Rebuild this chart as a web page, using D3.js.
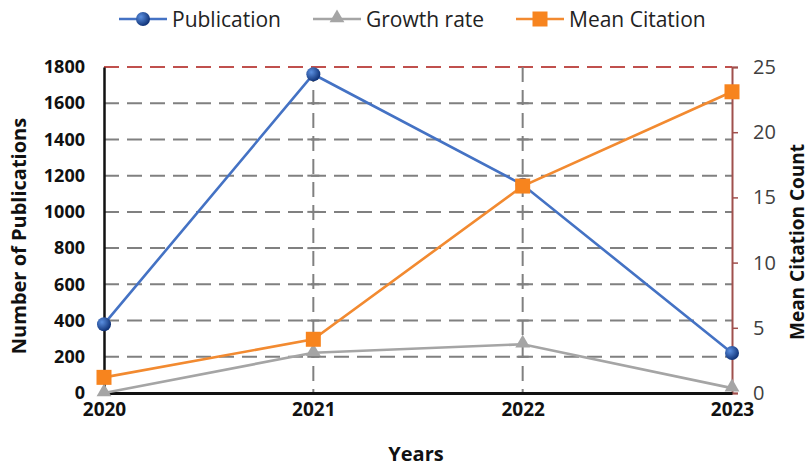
<!DOCTYPE html>
<html>
<head>
<meta charset="utf-8">
<script src="https://cdn.jsdelivr.net/npm/d3@7"></script>
<style>
  body { margin: 0; background: #fff; }
  svg { display: block; }
</style>
</head>
<body>
<svg id="chart" width="810" height="466"></svg>
<script>
// Data
const years = ["2020", "2021", "2022", "2023"];
const publications = [380, 1760, 1150, 221];
const growthRate = [0, 222, 269, 27];
const meanCitation = [1.2, 4.12, 15.87, 23.1];
const leftTicks = [0, 200, 400, 600, 800, 1000, 1200, 1400, 1600, 1800];
const rightTicks = [0, 5, 10, 15, 20, 25];

const svg = d3.select("#chart");
const margin = { left: 104, right: 78, top: 67, bottom: 73 };
const W = 810, H = 466;
const x0 = margin.left, x1 = W - margin.right;
const y0 = H - margin.bottom, y1 = margin.top;

const x = d3.scalePoint().domain(years).range([x0, x1]);
const yL = d3.scaleLinear().domain([0, 1800]).range([y0, y1]);
const yR = d3.scaleLinear().domain([0, 25]).range([y0, y1]);

const font = "'Open Sans', 'Noto Sans', sans-serif";
const gridCol = "#808080";
const dash = "15,8";

// Horizontal gridlines
svg.append("g").selectAll("line")
  .data(leftTicks.filter(d => d > 0))
  .join("line")
  .attr("x1", x0).attr("x2", x1)
  .attr("y1", d => yL(d)).attr("y2", d => yL(d))
  .attr("stroke", d => d === 1800 ? "#c0504d" : gridCol)
  .attr("stroke-width", 2)
  .attr("stroke-dasharray", dash);

// Vertical gridlines for inner years
svg.append("g").selectAll("line")
  .data(years.slice(1, -1))
  .join("line")
  .attr("x1", d => x(d)).attr("x2", d => x(d))
  .attr("y1", y1).attr("y2", y0)
  .attr("stroke", gridCol)
  .attr("stroke-width", 2)
  .attr("stroke-dasharray", dash);

// Small tick crossings on inner vertical gridlines
svg.append("g").selectAll("line")
  .data(years.slice(1, -1).flatMap(yr => leftTicks.filter(t => t > 0 && t < 1800).map(t => [yr, t])))
  .join("line")
  .attr("x1", d => x(d[0]) - 6).attr("x2", d => x(d[0]) + 6)
  .attr("y1", d => yL(d[1])).attr("y2", d => yL(d[1]))
  .attr("stroke", gridCol).attr("stroke-width", 2);

// Left axis
const gL = svg.append("g").attr("transform", `translate(${x0},0)`)
  .call(d3.axisLeft(yL).tickValues(leftTicks).tickFormat(d3.format("d")).tickSize(0).tickPadding(19));
gL.select(".domain").attr("stroke", "#111").attr("stroke-width", 2.5);
gL.selectAll("text").attr("font-family", font).attr("font-weight", "bold")
  .attr("font-size", 18).attr("fill", "#111");

// Right axis
const gR = svg.append("g").attr("transform", `translate(${x1},0)`)
  .call(d3.axisRight(yR).tickValues(rightTicks).tickSize(6).tickPadding(15));
gR.select(".domain").attr("stroke", "#a0504d").attr("stroke-width", 2);
gR.selectAll(".tick line").attr("stroke", "#a0504d").attr("stroke-width", 1.5);
gR.selectAll("text").attr("font-family", font).attr("font-size", 20).attr("fill", "#404040");

// Bottom axis
const gB = svg.append("g").attr("transform", `translate(0,${y0})`)
  .call(d3.axisBottom(x).tickSize(0).tickPadding(10));
gB.select(".domain").attr("stroke", "#111").attr("stroke-width", 3);
gB.selectAll("text").attr("font-family", font).attr("font-weight", "bold")
  .attr("font-size", 19).attr("fill", "#111");

// Axis titles
svg.append("text")
  .attr("transform", `translate(26,${(y0 + y1) / 2 + 6}) rotate(-90)`)
  .attr("text-anchor", "middle").attr("font-family", font)
  .attr("font-weight", "bold").attr("font-size", 20).attr("fill", "#111")
  .text("Number of Publications");
svg.append("text")
  .attr("transform", `translate(804,${(y0 + y1) / 2 + 12}) rotate(-90)`)
  .attr("text-anchor", "middle").attr("font-family", font)
  .attr("font-weight", "bold").attr("font-size", 19).attr("fill", "#111")
  .text("Mean Citation Count");
svg.append("text")
  .attr("x", 416).attr("y", 461)
  .attr("text-anchor", "middle").attr("font-family", font)
  .attr("font-weight", "bold").attr("font-size", 20).attr("fill", "#111")
  .text("Years");

// Series, drawn in order so later series sit on top
const colors = { pub: "#4472c4", growth: "#a5a5a5", cite: "#f28a30" };

const grad = svg.append("defs").append("radialGradient")
  .attr("id", "ballGrad").attr("cx", "35%").attr("cy", "35%").attr("r", "65%");
grad.append("stop").attr("offset", "0%").attr("stop-color", "#5b8fe0");
grad.append("stop").attr("offset", "100%").attr("stop-color", "#12357a");

function drawLine(vals, scale, color) {
  svg.append("path")
    .datum(vals)
    .attr("fill", "none").attr("stroke", color).attr("stroke-width", 2.6)
    .attr("d", d3.line().x((d, i) => x(years[i])).y(d => scale(d)));
}

const tri = d3.symbol().type(d3.symbolTriangle).size(95);

drawLine(publications, yL, colors.pub);
svg.append("g").selectAll("circle")
  .data(publications).join("circle")
  .attr("cx", (d, i) => x(years[i])).attr("cy", d => yL(d))
  .attr("r", 7).attr("fill", "url(#ballGrad)");

drawLine(growthRate, yL, colors.growth);
svg.append("g").selectAll("path")
  .data(growthRate).join("path")
  .attr("d", tri)
  .attr("transform", (d, i) => `translate(${x(years[i])},${yL(d) - 1})`)
  .attr("fill", colors.growth);

drawLine(meanCitation, yR, colors.cite);
svg.append("g").selectAll("rect")
  .data(meanCitation).join("rect")
  .attr("x", (d, i) => x(years[i]) - 7.5).attr("y", d => yR(d) - 7.5)
  .attr("width", 15).attr("height", 15)
  .attr("fill", "#f7841e");

// Legend
const legend = [
  { label: "Publication", color: colors.pub, type: "circle", x: 119 },
  { label: "Growth rate", color: colors.growth, type: "triangle", x: 313 },
  { label: "Mean Citation", color: colors.cite, type: "square", x: 516 }
];
const lg = svg.append("g");
legend.forEach(l => {
  const g = lg.append("g").attr("transform", `translate(${l.x},19)`);
  g.append("line").attr("x1", 0).attr("x2", 48).attr("y1", 0).attr("y2", 0)
    .attr("stroke", l.color).attr("stroke-width", 2.6);
  if (l.type === "circle") {
    g.append("circle").attr("cx", 24).attr("cy", 0).attr("r", 7).attr("fill", "url(#ballGrad)");
  } else if (l.type === "triangle") {
    g.append("path").attr("d", tri).attr("transform", "translate(24,-1)").attr("fill", l.color);
  } else {
    g.append("rect").attr("x", 16.5).attr("y", -7.5).attr("width", 15).attr("height", 15).attr("fill", "#f7841e");
  }
  g.append("text").attr("x", 53).attr("y", 7.5)
    .attr("font-family", font).attr("font-size", 21).attr("fill", "#222")
    .text(l.label);
});
</script>
</body>
</html>
